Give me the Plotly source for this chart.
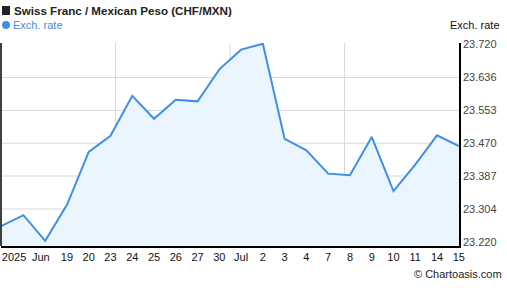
import plotly.graph_objects as go

# Data
dates = ["Jun 16", "Jun 17", "Jun 18", "Jun 19", "Jun 20", "Jun 23", "Jun 24", "Jun 25",
         "Jun 26", "Jun 27", "Jun 30", "Jul 1", "Jul 2", "Jul 3", "Jul 4", "Jul 7",
         "Jul 8", "Jul 9", "Jul 10", "Jul 11", "Jul 14", "Jul 15"]
rates = [23.261, 23.288, 23.223, 23.314, 23.448, 23.489, 23.590, 23.532,
         23.580, 23.576, 23.657, 23.707, 23.722, 23.481, 23.452, 23.393,
         23.389, 23.486, 23.349, 23.416, 23.490, 23.463]

x_tick_pos = [0.57, 1.8, 3, 4, 5, 6, 7, 8, 9, 10, 11, 12, 13, 14, 15, 16, 17, 18, 19, 20, 21]
x_tick_text = ["2025", "Jun", "19", "20", "23", "24", "25", "26", "27", "30", "Jul",
               "2", "3", "4", "7", "8", "9", "10", "11", "14", "15"]

y_tick_vals = [23.220, 23.3035, 23.387, 23.470, 23.553, 23.6365, 23.720]
y_tick_text = ["23.220", "23.304", "23.387", "23.470", "23.553", "23.636", "23.720"]

LINE = "#3f8fe2"
FILL = "#ebf5fe"
GRID = "#d9d9d9"
FONT = "Liberation Sans, Arial, sans-serif"

W, H = 507, 288
ML, MR, MT, MB = 1, 48, 43, 42
PW, PH = W - ML - MR, H - MT - MB


def px(x):
    return (x - ML) / PW


def py(y):
    return (H - MB - y) / PH


xs = list(range(len(rates)))

fig = go.Figure()
fig.add_trace(go.Scatter(
    x=xs, y=rates, mode="lines",
    line=dict(color=LINE, width=2),
    fill="tozeroy", fillcolor=FILL,
    hoverinfo="skip", showlegend=False,
))

shapes = []
for v in y_tick_vals[1:-1]:
    shapes.append(dict(type="line", xref="x domain", yref="y", x0=0, x1=1, y0=v, y1=v,
                       line=dict(color=GRID, width=1), layer="below"))
for f in [0.25, 0.5, 0.75]:
    shapes.append(dict(type="line", xref="x domain", yref="y domain", x0=f, x1=f, y0=0, y1=1,
                       line=dict(color=GRID, width=1), layer="below"))
shapes.append(dict(type="line", xref="x domain", yref="y domain", x0=0, x1=0, y0=0, y1=1,
                   line=dict(color="#000000", width=1.5)))
# title square marker and legend dot
shapes.append(dict(type="rect", xref="paper", yref="paper", x0=px(2), x1=px(10), y0=py(15), y1=py(6),
                   fillcolor="#222222", line=dict(width=0)))
shapes.append(dict(type="circle", xref="paper", yref="paper", x0=px(2), x1=px(10), y0=py(29), y1=py(21),
                   fillcolor=LINE, line=dict(width=0)))

fig.update_layout(
    width=W, height=H,
    margin=dict(l=ML, r=MR, t=MT, b=MB),
    paper_bgcolor="white", plot_bgcolor="white",
    shapes=shapes,
    xaxis=dict(
        range=[-0.03, 21.01], tickmode="array", tickvals=x_tick_pos, ticktext=x_tick_text,
        showgrid=False, zeroline=False, showline=True, linecolor="#000000", linewidth=1.5,
        ticks="outside", ticklen=0, tickcolor="rgba(0,0,0,0)",
        tickfont=dict(family=FONT, size=11, color="#111111"),
    ),
    yaxis=dict(
        range=[23.2098, 23.7238], side="right", tickmode="array",
        tickvals=y_tick_vals, ticktext=y_tick_text,
        showgrid=False, zeroline=False, showline=True, linecolor="#000000", linewidth=1.5,
        ticks="", tickfont=dict(family=FONT, size=11, color="#444444"),
    ),
    annotations=[
        dict(text="<b>Swiss Franc / Mexican Peso (CHF/MXN)</b>", xref="paper", yref="paper",
             x=px(12), y=py(11), xanchor="left", yanchor="middle", showarrow=False,
             font=dict(family=FONT, size=11.6, color="#222222")),
        dict(text="Exch. rate", xref="paper", yref="paper", x=px(11), y=py(25),
             xanchor="left", yanchor="middle", showarrow=False,
             font=dict(family=FONT, size=11, color=LINE)),
        dict(text="Exch. rate", xref="paper", yref="paper", x=px(502), y=py(25),
             xanchor="right", yanchor="middle", showarrow=False,
             font=dict(family=FONT, size=11, color="#111111")),
        dict(text="© Chartoasis.com", xref="paper", yref="paper", x=px(504), y=py(274),
             xanchor="right", yanchor="middle", showarrow=False,
             font=dict(family=FONT, size=11, color="#222222")),
    ],
)

fig.write_html("out.html")
